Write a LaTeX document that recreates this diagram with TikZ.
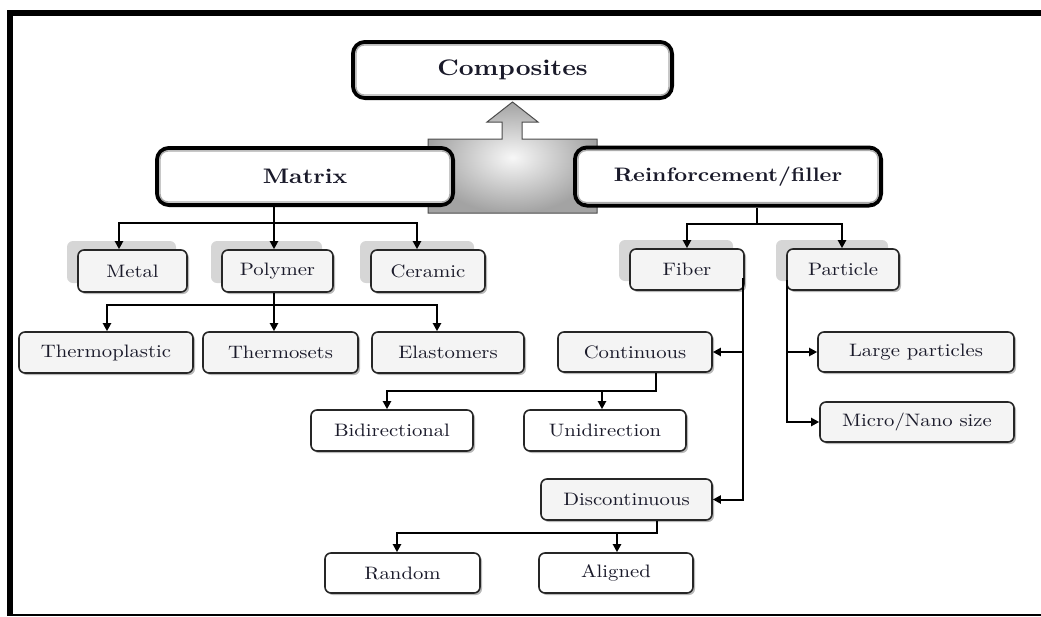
\documentclass[tikz,border=0pt]{standalone}
\usepackage{fontspec}
\setmainfont{lmroman10-regular.otf}[BoldFont=lmroman10-bold.otf,FakeStretch=1.15]
\usetikzlibrary{shadows,arrows.meta,calc}
\definecolor{txt}{HTML}{1A1A2A}
\begin{document}
\begin{tikzpicture}[x=1pt,y=-1pt,
  box/.style={draw=black!85, line width=1.6pt, rounded corners=6pt, inner sep=0pt, text=txt,
    font=\fontsize{18}{20}\selectfont,
    drop shadow={shadow xshift=2pt,shadow yshift=-2pt,fill=gray!55,opacity=1}},
  gbox/.style={box, fill=gray!9},
  wbox/.style={box, fill=white},
  sbox/.style={box, fill=gray!9,
    drop shadow={shadow xshift=-11pt,shadow yshift=9pt,fill=gray!32,opacity=1}},
  bigbox/.style={draw=black, line width=4pt, rounded corners=12pt, fill=white, inner sep=0pt, text=txt},
  inner/.style={draw=gray!65, line width=1.4pt, rounded corners=8pt},
  ln/.style={line width=2pt},
  arr/.style={line width=2pt, -{Triangle[length=8pt,width=8pt]}}
]
\useasboundingbox (0,0) rectangle (1041,616);
% frame
\fill[black] (7,10) rectangle (1041,16);
\fill[black] (7,10) rectangle (13,616);
\fill[black] (7,613.5) rectangle (1041,616);

% big arrow
\shadedraw[inner color=gray!6, outer color=gray!72, draw=black!70, line width=1pt]
  (428,213) -- (428,139) -- (502,139) -- (502,122) -- (487,122) -- (512.5,102) -- (538,122)
  -- (522,122) -- (522,139) -- (597,139) -- (597,213) -- cycle;

% top boxes
\node[bigbox, minimum width=319pt, minimum height=56pt, font=\bfseries\fontsize{22.5}{24}\selectfont] (comp) at (512.5,70) {Composites};
\draw[inner] ($(comp.north west)+(5,5)$) rectangle ($(comp.south east)+(-5,-5)$);
\node[bigbox, minimum width=296pt, minimum height=57pt, font=\bfseries\fontsize{21}{24}\selectfont] (matrix) at (305,176.5) {Matrix};
\draw[inner] ($(matrix.north west)+(5,5)$) rectangle ($(matrix.south east)+(-5,-5)$);
\node[bigbox, minimum width=306pt, minimum height=58pt, font=\bfseries\fontsize{19.5}{22}\selectfont] (reinf) at (728,176.5) {Reinforcement/filler};
\draw[inner] ($(reinf.north west)+(5,5)$) rectangle ($(reinf.south east)+(-5,-5)$);

% level 2
\node[sbox, minimum width=109pt, minimum height=42pt] (metal) at (132.5,271) {Metal};
\node[sbox, minimum width=111pt, minimum height=42pt] (polymer) at (277.5,271) {Polymer};
\node[sbox, minimum width=114pt, minimum height=42pt] (ceramic) at (428,271) {Ceramic};
\node[sbox, minimum width=114pt, minimum height=41pt] (fiber) at (687,269.5) {Fiber};
\node[sbox, minimum width=112pt, minimum height=41pt] (particle) at (843,269.5) {Particle};

% level 3
\node[gbox, minimum width=174pt, minimum height=41pt] (thermoplastic) at (106,352.5) {Thermoplastic};
\node[gbox, minimum width=155pt, minimum height=41pt] (thermosets) at (280.5,352.5) {Thermosets};
\node[gbox, minimum width=152pt, minimum height=41pt] (elastomers) at (448,352.5) {Elastomers};
\node[gbox, minimum width=154pt, minimum height=40pt] (continuous) at (635,352) {Continuous};
\node[gbox, minimum width=196pt, minimum height=40pt] (large) at (916,352) {Large particles};
\node[gbox, minimum width=194pt, minimum height=40pt] (micro) at (917,422) {Micro/Nano size};
\node[wbox, minimum width=162pt, minimum height=41pt] (bidir) at (392,430.5) {Bidirectional};
\node[wbox, minimum width=162pt, minimum height=41pt] (unidir) at (605,430.5) {Unidirection};
\node[gbox, minimum width=171pt, minimum height=41pt] (discont) at (626.5,499.5) {Discontinuous};
\node[wbox, minimum width=155pt, minimum height=40pt] (random) at (402.5,573) {Random};
\node[wbox, minimum width=154pt, minimum height=40pt] (aligned) at (616,573) {Aligned};

% matrix connectors
\coordinate (mj) at (274,223);
\coordinate (ma) at (119,223);
\coordinate (mc) at (417,223);
\draw[arr] (matrix.south -| mj) -- (mj |- polymer.north);
\draw[arr] (mj) -| (ma |- metal.north);
\draw[arr] (mj) -| (mc |- ceramic.north);

% polymer connectors
\coordinate (pj) at (274,305);
\coordinate (pa) at (107,305);
\coordinate (pc) at (437,305);
\draw[arr] (polymer.south -| pj) -- (pj |- thermosets.north);
\draw[arr] (pj) -| (pa |- thermoplastic.north);
\draw[arr] (pj) -| (pc |- elastomers.north);

% reinforcement connectors
\coordinate (rj) at (757,224);
\coordinate (ra) at (687,224);
\coordinate (rb) at (842,224);
\draw[ln] (reinf.south -| rj) -- (rj);
\draw[arr] (rj) -| (ra |- fiber.north);
\draw[arr] (rj) -| (rb |- particle.north);

% fiber connectors
\coordinate (fs) at (743,278);
\draw[arr] (fs) |- (discont.east);
\draw[arr] (continuous.east -| fs) -- (continuous.east);

% particle connectors
\coordinate (ps) at (787,280);
\draw[arr] (ps) |- (micro.west);
\draw[arr] (large.west -| ps) -- (large.west);

% continuous connectors
\coordinate (cj) at (656,391);
\coordinate (ca) at (387,391);
\coordinate (cb) at (602,391);
\draw[arr] (continuous.south -| cj) -- (cj) -| (ca |- bidir.north);
\draw[arr] (cb) -- (cb |- unidir.north);

% discontinuous connectors
\coordinate (dj) at (657,533);
\coordinate (da) at (397,533);
\coordinate (db) at (617,533);
\draw[arr] (discont.south -| dj) -- (dj) -| (da |- random.north);
\draw[arr] (db) -- (db |- aligned.north);
\end{tikzpicture}
\end{document}
